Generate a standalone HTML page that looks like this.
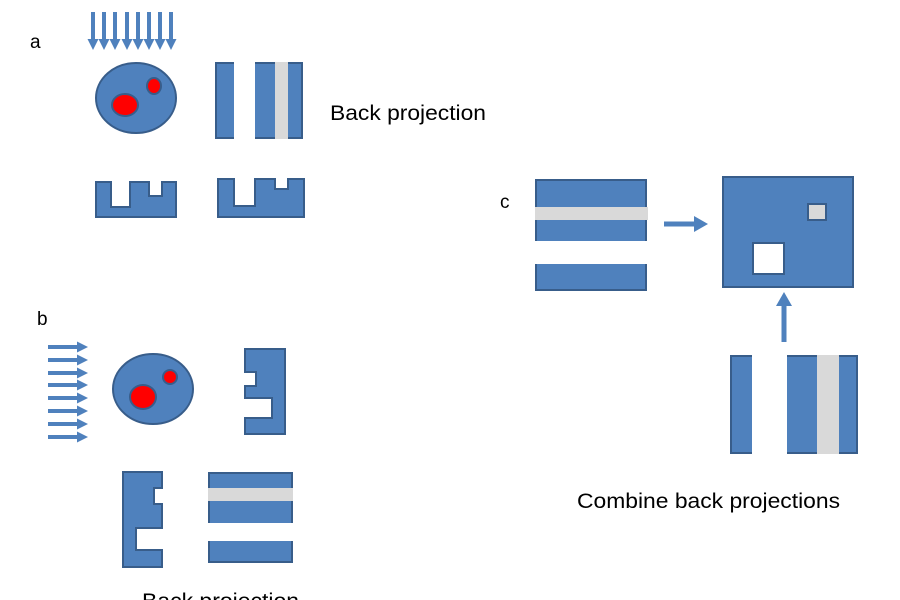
<!DOCTYPE html>
<html><head><meta charset="utf-8"><style>html,body{margin:0;padding:0;background:#fff}svg{display:block}text{font-family:"Liberation Sans",sans-serif;fill:#000}</style></head>
<body>
<svg width="900" height="600" viewBox="0 0 900 600" xmlns="http://www.w3.org/2000/svg">
<defs>
<g id="da"><rect x="-2" y="12" width="4" height="30" fill="#4f81bd"/><polygon points="-5.5,39 5.5,39 0,50" fill="#4f81bd"/></g>
<g id="ra"><rect x="0" y="-2" width="32" height="4" fill="#4f81bd"/><polygon points="29,-5.5 29,5.5 40,0" fill="#4f81bd"/></g>
</defs>
<g stroke="none">
<use href="#da" x="93"/><use href="#da" x="104"/><use href="#da" x="115"/><use href="#da" x="127"/><use href="#da" x="138"/><use href="#da" x="149"/><use href="#da" x="160"/><use href="#da" x="171"/>
<use href="#ra" x="48" y="347"/><use href="#ra" x="48" y="360"/><use href="#ra" x="48" y="373"/><use href="#ra" x="48" y="385"/><use href="#ra" x="48" y="398"/><use href="#ra" x="48" y="411"/><use href="#ra" x="48" y="424"/><use href="#ra" x="48" y="437"/>
</g>
<g fill="#4f81bd" stroke="#385d8a" stroke-width="2">
<ellipse cx="136" cy="98" rx="40" ry="35"/>
<ellipse cx="125" cy="105" rx="13" ry="11" fill="#f00"/>
<ellipse cx="154" cy="86" rx="7" ry="8" fill="#f00"/>
<ellipse cx="153" cy="389" rx="40" ry="35"/>
<ellipse cx="143" cy="397" rx="13" ry="12" fill="#f00"/>
<ellipse cx="170" cy="377" rx="7" ry="7" fill="#f00"/>
<rect x="216" y="63" width="86" height="75"/>
<path d="M96 182H111V207H130V182H149V196H162V182H176V217H96Z"/>
<path d="M218 179H234V206H255V179H275V189H288V179H304V217H218Z"/>
<path d="M245 349H285V434H245V418H272V398H245V386H256V372H245Z"/>
<path d="M123 472H162V488H154V504H162V528H136V550H162V567H123Z"/>
<rect x="209" y="473" width="83" height="89"/>
<rect x="536" y="180" width="110" height="110"/>
<rect x="723" y="177" width="130" height="110"/>
<rect x="808" y="204" width="18" height="16" fill="#d9d9d9"/>
<rect x="753" y="243" width="31" height="31" fill="#fff"/>
<rect x="731" y="356" width="126" height="97"/>
</g>
<g stroke="none">
<rect x="234" y="62" width="21" height="77" fill="#fff"/>
<rect x="275" y="62" width="13" height="77" fill="#d9d9d9"/>
<rect x="208" y="488" width="85" height="13" fill="#d9d9d9"/>
<rect x="208" y="523" width="85" height="18" fill="#fff"/>
<rect x="535" y="207" width="113" height="13" fill="#d9d9d9"/>
<rect x="535" y="241" width="113" height="23" fill="#fff"/>
<rect x="752" y="355" width="35" height="99" fill="#fff"/>
<rect x="817" y="355" width="22" height="99" fill="#d9d9d9"/>
<rect x="664" y="221.5" width="32" height="5" fill="#4f81bd"/>
<polygon points="694,216 694,232 708,224" fill="#4f81bd"/>
<rect x="781.5" y="304" width="5" height="38" fill="#4f81bd"/>
<polygon points="776,306 792,306 784,292" fill="#4f81bd"/>
</g>
<text x="30" y="48" font-size="19">a</text>
<text x="37" y="325" font-size="19">b</text>
<text x="500" y="208" font-size="19">c</text>
<text x="330" y="120" font-size="21" textLength="156" lengthAdjust="spacingAndGlyphs">Back projection</text>
<text x="577" y="508" font-size="21" textLength="263" lengthAdjust="spacingAndGlyphs">Combine back projections</text>
<text x="142" y="608" font-size="21" textLength="157" lengthAdjust="spacingAndGlyphs">Back projection</text>
</svg>
</body></html>
